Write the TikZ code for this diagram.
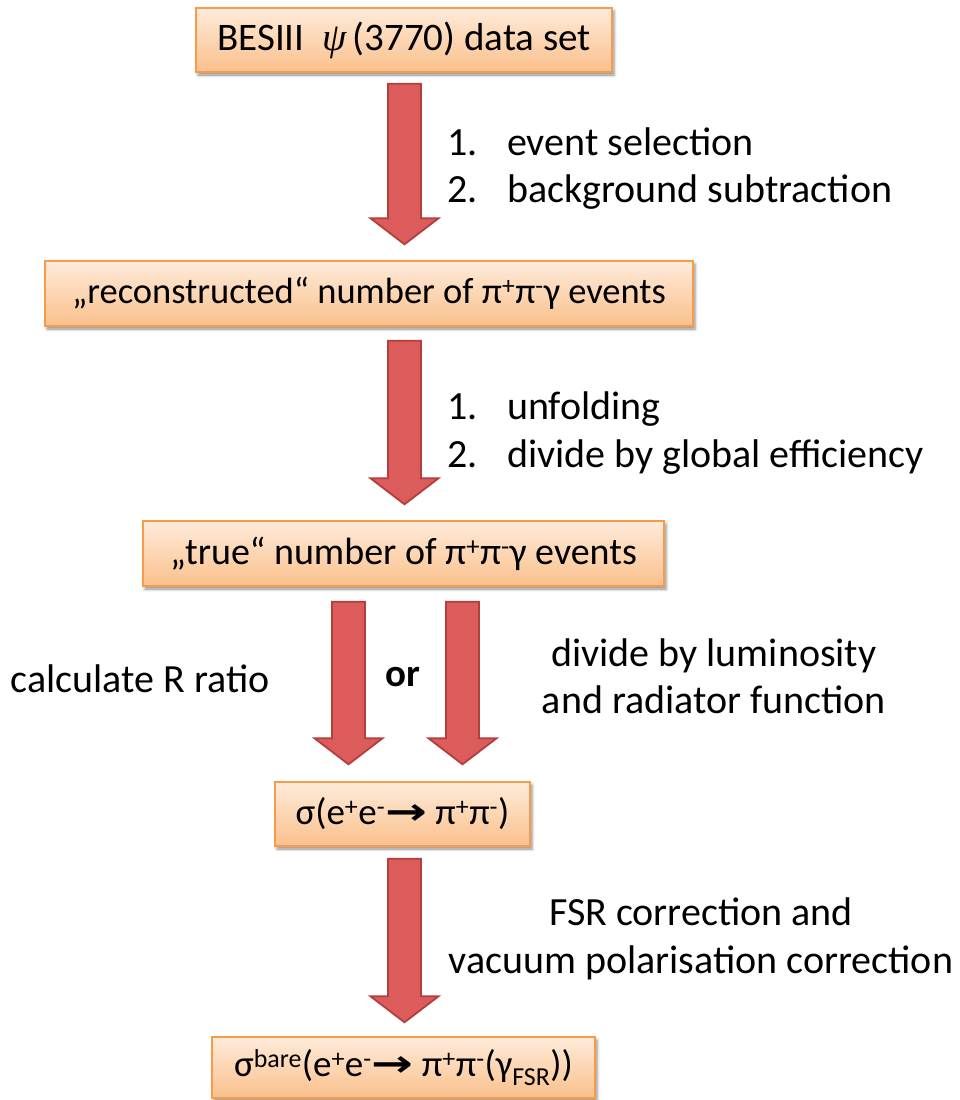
\documentclass[tikz,border=0pt]{standalone}
\usepackage{fontspec}
\setmainfont{Carlito}
\newfontfamily\libser{Liberation Serif}
\newfontfamily\djv{DejaVu Sans}
\usetikzlibrary{calc,shadows.blur}
\definecolor{boxtop}{HTML}{FEEBDA}
\definecolor{boxbot}{HTML}{FAC08C}
\definecolor{boxline}{HTML}{F79A4A}
\definecolor{arrfill}{HTML}{DC5B5B}
\definecolor{arrline}{HTML}{B23E3E}
\newcommand{\bigrarrow}{{\djv\bfseries\scalebox{1.35}[1]{→}}}
\tikzset{
  box/.style={draw=boxline, line width=1.4pt, top color=boxtop, bottom color=boxbot,
    inner sep=0pt, font=\fontsize{37}{44}\selectfont,
    blur shadow={shadow xshift=2pt, shadow yshift=-3pt, shadow blur radius=3pt, shadow opacity=45}},
  lbl/.style={inner sep=0pt, font=\fontsize{40}{47.5}\selectfont},
  bigarr/.style={draw=arrline, fill=arrfill, line width=1.8pt, line join=miter,
    to path={($(\tikztostart)+(-16.5,0)$) -- ($(\tikztotarget)+(-16.5,26)$)
      -- ($(\tikztotarget)+(-34,26)$) -- (\tikztotarget) -- ($(\tikztotarget)+(34,26)$)
      -- ($(\tikztotarget)+(16.5,26)$) -- ($(\tikztostart)+(16.5,0)$) -- cycle}}
}
\begin{document}
\begin{tikzpicture}[x=1pt,y=1pt]
\useasboundingbox (0,0) rectangle (959,-1100);
% boxes
\node[box, minimum width=416, minimum height=64, font=\fontsize{39}{44}\selectfont] (b1) at (404,-40)
  {BESIII\ \ {\libser\itshape ψ}\,(3770) data set};
\node[box, minimum width=648, minimum height=65, font=\fontsize{36.5}{44}\selectfont] (b2) at (369,-293.5)
  {„reconstructed“ number of π\textsuperscript{+}π\textsuperscript{-}γ events};
\node[box, minimum width=521, minimum height=65, font=\fontsize{38}{44}\selectfont] (b3) at (403.5,-553.5)
  {„true“ number of π\textsuperscript{+}π\textsuperscript{-}γ events};
\node[box, minimum width=255, minimum height=64] (b4) at (402.5,-814)
  {σ(e\textsuperscript{+}e\textsuperscript{-}\bigrarrow\ π\textsuperscript{+}π\textsuperscript{-})};
\node[box, minimum width=383, minimum height=61] (b5) at (403.5,-1067.5)
  {σ\textsuperscript{bare}(e\textsuperscript{+}e\textsuperscript{-}\bigrarrow\ π\textsuperscript{+}π\textsuperscript{-}(γ\textsubscript{FSR}))};
% arrows
\path[bigarr] ($(b1.south)+(0.5,-11)$) to ($(b2.north -| b1.south)+(0.5,16)$);
\path[bigarr] ($(b2.south -| b1.south)+(0.5,-14)$) to ($(b3.north -| b1.south)+(0.5,16)$);
\path[bigarr] ($(b3.south)+(-55,-15)$) to ($(b4.north -| b3.south)+(-55,17)$);
\path[bigarr] ($(b3.south)+(59,-15)$) to ($(b4.north -| b3.south)+(59,17)$);
\path[bigarr] ($(b4.south -| b1.south)+(0.5,-12)$) to ($(b5.north -| b1.south)+(0.5,14)$);
% labels
\node[lbl, anchor=west, align=left] (l1) at (447,-168.5)
  {\makebox[60pt][l]{1.}event selection\\\makebox[60pt][l]{2.}background subtraction};
\node[lbl, anchor=west, align=left] (l2) at (447,-433)
  {\makebox[60pt][l]{1.}unfolding\\\makebox[60pt][l]{2.}divide by global efficiency};
\node[lbl] (l3) at (140,-679) {calculate R ratio};
\node[lbl, font=\fontsize{39}{47}\selectfont\bfseries] (l4) at (403,-677) {or};
\node[lbl, align=center] (l5) at (714,-676.5) {divide by luminosity\\and radiator function};
\node[lbl, align=center] (l6) at (701,-939) {FSR correction and\\vacuum polarisation correction};
\end{tikzpicture}
\end{document}
